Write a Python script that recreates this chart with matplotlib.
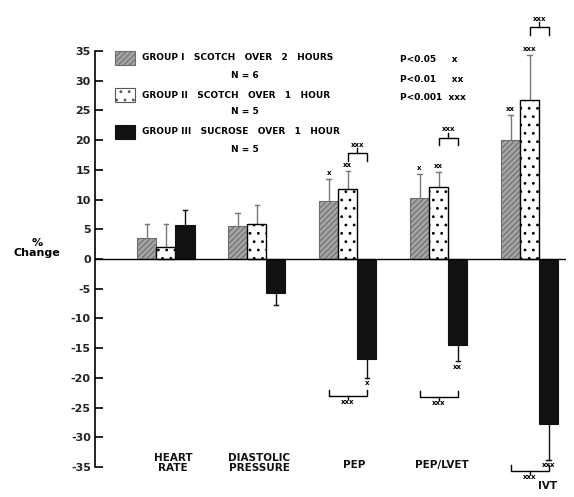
import matplotlib
matplotlib.use("Agg")
import matplotlib.pyplot as plt
import numpy as np

plt.rcParams['font.family'] = ['DejaVu Sans']
plt.rcParams['axes.unicode_minus'] = False
plt.rcParams['hatch.linewidth'] = 0.8

categories = ["HEART\nRATE", "DIASTOLIC\nPRESSURE", "PEP", "PEP/LVET", "IVT"]
group1 = [3.6, 5.6, 9.8, 10.3, 20.0]
group1_err = [2.3, 2.2, 3.7, 4.0, 4.2]
group2 = [2.0, 5.9, 11.8, 12.1, 26.8]
group2_err = [3.9, 3.2, 3.0, 2.5, 7.5]
group3 = [5.7, -5.7, -16.8, -14.5, -27.8]
group3_err = [2.5, 2.0, 3.2, 2.7, 6.0]
yticks = [35, 30, 25, 20, 15, 10, 5, 0, -5, -10, -15, -20, -25, -30, -35]

legend_labels = ["GROUP I   SCOTCH   OVER   2   HOURS", "GROUP II   SCOTCH   OVER   1   HOUR",
                 "GROUP III   SUCROSE   OVER   1   HOUR"]
legend_n = ["N = 6", "N = 5", "N = 5"]
p_labels = ["P<0.05     x", "P<0.01     xx", "P<0.001  xxx"]

# significance marks on bar ends
sig1 = ["", "", "x", "x", "xx"]
sig2 = ["", "", "xx", "xx", "xxx"]
sig3 = ["", "", "x", "xx", "xxx"]

fig = plt.figure(figsize=(5.74, 4.97), dpi=100)
ax = fig.add_axes([95/574, 1-467/497, (566-95)/574, (467-51)/497])

x = np.arange(len(categories))
w = 0.21
c_hatch = '#a4a4a4'
ax.bar(x - w, group1, w, color=c_hatch, edgecolor='#6e6e6e', hatch='//////', linewidth=0.8, zorder=2)
ax.bar(x, group2, w, color='white', edgecolor='black', hatch='..', linewidth=1.0, zorder=2)
ax.bar(x + w, group3, w, color='#111111', edgecolor='#111111', linewidth=0.8, zorder=2)

def err(xs, vals, errs, color):
    for xi, v, e in zip(xs, vals, errs):
        end = v + e if v >= 0 else v - e
        ax.plot([xi, xi], [v, end], color=color, lw=1.0, zorder=1, clip_on=False)
        ax.plot([xi - 0.025, xi + 0.025], [end, end], color=color, lw=1.0, clip_on=False)

err(x - w, group1, group1_err, '#777777')
err(x, group2, group2_err, '#777777')
err(x + w, group3, group3_err, '#111111')

for xs, vals, errs, sigs in [(x - w, group1, group1_err, sig1), (x, group2, group2_err, sig2),
                             (x + w, group3, group3_err, sig3)]:
    for xi, v, e, s in zip(xs, vals, errs, sigs):
        if not s:
            continue
        if v >= 0:
            ax.text(xi, v + e + 0.5, s, ha='center', va='bottom', fontsize=5, fontweight='bold', clip_on=False)
        else:
            ax.text(xi, v - e - 0.4, s, ha='center', va='top', fontsize=5, fontweight='bold', clip_on=False)

# brackets group II vs III (top)
top_br = [(2, 17.8), (3, 20.4), (4, 39.0)]
for ci, yb in top_br:
    x0, x1 = ci, ci + w
    ax.plot([x0, x0, x1, x1], [yb - 1.3, yb, yb, yb - 1.3], color='black', lw=1.0, clip_on=False)
    ax.plot([(x0 + x1) / 2] * 2, [yb, yb + 0.8], color='black', lw=1.0, clip_on=False)
    ax.text((x0 + x1) / 2, yb + 0.9, "xxx", ha='center', va='bottom', fontsize=5, fontweight='bold', clip_on=False)

# brackets group I vs III (bottom)
bot_br = [(2, -23.0), (3, -23.2), (4, -35.6)]
for ci, yb in bot_br:
    x0, x1 = ci - w, ci + w
    ax.plot([x0, x0, x1, x1], [yb + 1.0, yb, yb, yb + 1.0], color='black', lw=1.0, clip_on=False)
    ax.plot([(x0 + x1) / 2] * 2, [yb, yb - 0.6], color='black', lw=1.0, clip_on=False)
    ax.text((x0 + x1) / 2, yb - 0.6, "xxx", ha='center', va='top', fontsize=5, fontweight='bold', clip_on=False)

ax.axhline(0, color='black', lw=1.0, zorder=3)
ax.set_xlim(-0.78, 4.40)
ax.set_ylim(-35, 35)
for s in ['top', 'right', 'bottom']:
    ax.spines[s].set_visible(False)
ax.spines['left'].set_linewidth(1.2)
ax.set_yticks(yticks)
ax.set_yticklabels([str(t) for t in yticks], fontsize=8, fontweight='bold', color='#222222')
ax.tick_params(axis='y', direction='in', length=6, width=1.2, pad=3)
ax.set_xticks([])

# category labels
cat_pos = [(173, 463), (259, 463), (354, 465), (442, 465), (548, 486)]
for lab, (px, py) in zip(categories, cat_pos):
    fig.text(px / 574, 1 - py / 497, lab, ha='center', va='center', fontsize=7.5,
             fontweight='bold', linespacing=1.1, color='#111111')

# y label
fig.text(37 / 574, 1 - 248 / 497, "%\nChange", ha='center', va='center', fontsize=8,
         fontweight='bold', linespacing=1.0)

# legend
styles = [dict(facecolor=c_hatch, edgecolor='#6e6e6e', hatch='//////', lw=0.8),
          dict(facecolor='white', edgecolor='#555555', hatch='..', lw=0.8),
          dict(facecolor='#111111', edgecolor='#111111', lw=0.8)]
ys = [58, 95, 132]
for st, y0, lab, n in zip(styles, ys, legend_labels, legend_n):
    r = plt.Rectangle((115 / 574, 1 - (y0 + 7) / 497), 20 / 574, 14 / 497,
                      transform=fig.transFigure, **st)
    fig.patches.append(r)
    fig.text(142 / 574, 1 - y0 / 497, lab, ha='left', va='center', fontsize=6.5, fontweight='bold')
    fig.text(245 / 574, 1 - (y0 + 17) / 497, n, ha='center', va='center', fontsize=6.5, fontweight='bold')

for py, lab in zip([60, 79, 97], p_labels):
    fig.text(400 / 574, 1 - py / 497, lab, ha='left', va='center', fontsize=6.5, fontweight='bold')

fig.savefig("out.png", dpi=100)
